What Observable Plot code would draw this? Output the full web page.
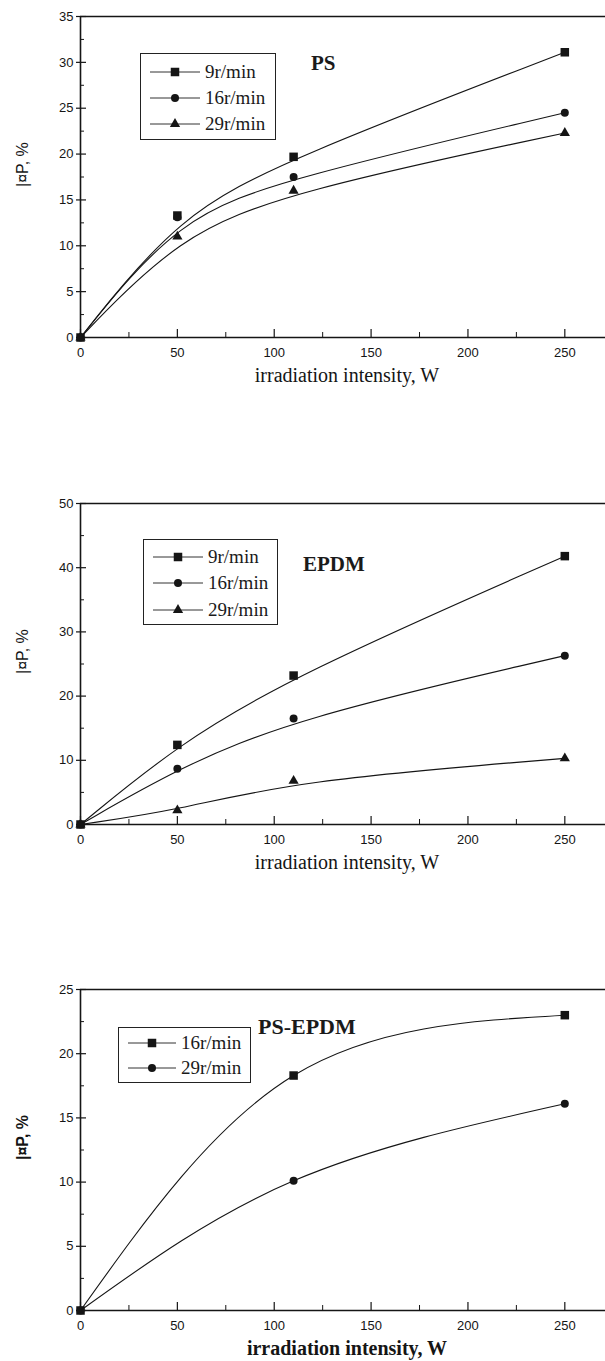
<!DOCTYPE html>
<html>
<head>
<meta charset="utf-8">
<script src="https://cdn.jsdelivr.net/npm/d3@7"></script>
<script src="https://cdn.jsdelivr.net/npm/@observablehq/plot@0.6"></script>
<style>
  html, body { margin: 0; padding: 0; background: #fff; }
  #wrap { position: relative; width: 605px; height: 1361px; overflow: hidden; background: #fff; }
  .panel { position: absolute; left: 0; width: 605px; }
  .title { position: absolute; font-family: "Liberation Serif", "Times New Roman", serif; font-weight: bold; font-size: 21px; line-height: 21px; color: #1a1a1a; white-space: nowrap; }
  .legend { position: absolute; border: 1.5px solid #222; background: #fff; box-sizing: border-box; }
  .row { position: absolute; left: 8px; height: 20px; display: flex; align-items: center; font-family: "Liberation Serif", "Times New Roman", serif; font-size: 19px; line-height: 20px; color: #1a1a1a; white-space: nowrap; }
  .row svg { display: block; margin-right: 3px; }
</style>
</head>
<body>
<div id="wrap"></div>
<script>
// ---- data ----
const xMajor = [0, 50, 100, 150, 200, 250];
const xMinor = [25, 75, 125, 175, 225];
const xDomain = [0, 271];
const xLabel = "irradiation intensity, W";
const yLabel = "|¤P, %";

// Panel 1: PS
const psSpeeds = ["9r/min", "16r/min", "29r/min"];
const psIntensity = [0, 50, 110, 250];
const ps9 = [0, 13.3, 19.7, 31.1];
const ps16 = [0, 13.1, 17.5, 24.5];
const ps29 = [0, 11.0, 16.0, 22.3];
const psYMajor = [0, 5, 10, 15, 20, 25, 30, 35];
const psYMinor = [2.5, 7.5, 12.5, 17.5, 22.5, 27.5, 32.5];

// Panel 2: EPDM
const epdmSpeeds = ["9r/min", "16r/min", "29r/min"];
const epdmIntensity = [0, 50, 110, 250];
const epdm9 = [0, 12.4, 23.2, 41.8];
const epdm16 = [0, 8.7, 16.5, 26.3];
const epdm29 = [0, 2.2, 6.8, 10.3];
const epdmYMajor = [0, 10, 20, 30, 40, 50];
const epdmYMinor = [5, 15, 25, 35, 45];

// Panel 3: PS-EPDM
const blendSpeeds = ["16r/min", "29r/min"];
const blendIntensity = [0, 110, 250];
const blend16 = [0, 18.3, 23.0];
const blend29 = [0, 10.1, 16.1];
const blendYMajor = [0, 5, 10, 15, 20, 25];
const blendYMinor = [2.5, 7.5, 12.5, 17.5, 22.5];

const symbolOrder = ["square", "circle", "triangle"];
const symbolR = {square: 4.8, circle: 4, triangle: 3.8};
const d3Sym = {square: d3.symbolSquare, circle: d3.symbolCircle, triangle: d3.symbolTriangle};

function rowsOf(speeds, intensity, seriesList) {
  const rows = [];
  speeds.forEach((s, k) => intensity.forEach((x, i) => rows.push({speed: s, k, intensity: x, value: seriesList[k][i]})));
  return rows;
}

const INNER_H = 321, INNER_W = 525;

function makePanel(cfg) {
  const rows = rowsOf(cfg.speeds, cfg.intensity, cfg.series);
  const ink = "#151515";
  const marks = [
    Plot.axisX(xMajor, {tickSize: 0, tickPadding: 10, label: null, fontSize: 13}),
    Plot.axisY(cfg.yMajor, {tickSize: 4, tickPadding: 3, label: null, fontSize: 13, stroke: ink, strokeWidth: 1.2}),
    Plot.tickX(xMajor, {x: d => d, insetTop: INNER_H - 8, stroke: ink, strokeWidth: 1.2}),
    Plot.tickX(xMinor, {x: d => d, insetTop: INNER_H - 5, stroke: ink, strokeWidth: 1}),
    Plot.tickY(cfg.yMajor, {y: d => d, insetRight: INNER_W - 6, stroke: ink, strokeWidth: 1.2}),
    Plot.tickY(cfg.yMinor, {y: d => d, insetRight: INNER_W - 4, stroke: ink, strokeWidth: 1}),
    Plot.ruleX([xDomain[0]], {stroke: ink, strokeWidth: 1.6}),
    Plot.ruleY([0, cfg.yMax], {stroke: ink, strokeWidth: 1.6}),
    Plot.line(rows, {x: "intensity", y: "value", z: "speed", curve: cfg.curve, stroke: ink, strokeWidth: 1.1}),
  ];
  cfg.speeds.forEach((s, k) => {
    const sym = symbolOrder[k];
    marks.push(Plot.dot(rows.filter(r => r.k === k), {x: "intensity", y: "value", symbol: sym, r: symbolR[sym], fill: ink, stroke: "none"}));
  });
  marks.push(Plot.text([yLabel], {frameAnchor: "left", dx: -58, dy: 10, rotate: -90, fontSize: 16, fontWeight: cfg.bold ? "bold" : "normal", fill: ink}));
  marks.push(Plot.text([xLabel], {frameAnchor: "bottom", dx: 4, dy: 44, fontSize: 20, fontFamily: "Liberation Serif, Times New Roman, serif", fontWeight: cfg.bold ? "bold" : "normal", fill: ink}));

  const plot = Plot.plot({
    width: 605, height: cfg.height,
    marginTop: 16, marginLeft: 80, marginRight: 0, marginBottom: cfg.height - 16 - INNER_H,
    x: {domain: xDomain},
    y: {domain: [0, cfg.yMax]},
    style: {fontFamily: "Liberation Sans, Arial, sans-serif", fontSize: "13px", color: ink, background: "white", overflow: "visible"},
    marks
  });

  const div = document.createElement("div");
  div.className = "panel";
  div.style.top = cfg.top + "px";
  div.style.height = cfg.height + "px";
  div.appendChild(plot);

  const title = document.createElement("div");
  title.className = "title";
  title.textContent = cfg.title;
  title.style.left = cfg.titleLeft + "px";
  title.style.top = (cfg.titleBaseline - 17) + "px";
  if (cfg.titleSize) title.style.fontSize = cfg.titleSize + "px";
  div.appendChild(title);

  const lg = document.createElement("div");
  lg.className = "legend";
  lg.style.left = cfg.legend.left + "px";
  lg.style.top = cfg.legend.top + "px";
  lg.style.width = cfg.legend.width + "px";
  lg.style.height = cfg.legend.height + "px";
  cfg.speeds.forEach((s, k) => {
    const sym = symbolOrder[k];
    const row = document.createElement("div");
    row.className = "row";
    row.style.top = (cfg.legend.rows[k] - 10) + "px";
    row.style.left = cfg.legend.lineLeft + "px";
    const L = cfg.legend.lineLen;
    const svg = d3.create("svg").attr("width", L + 2).attr("height", 14);
    svg.append("line").attr("x1", 0).attr("x2", L).attr("y1", 7).attr("y2", 7).attr("stroke", "#333").attr("stroke-width", 1);
    const r = symbolR[sym];
    svg.append("path").attr("transform", `translate(${L / 2},7)`).attr("d", d3.symbol(d3Sym[sym], Math.PI * r * r)()).attr("fill", ink);
    row.appendChild(svg.node());
    const span = document.createElement("span");
    span.textContent = s;
    row.appendChild(span);
    lg.appendChild(row);
  });
  div.appendChild(lg);
  document.getElementById("wrap").appendChild(div);
}

makePanel({
  top: 0, height: 487, yMax: 35, yMajor: psYMajor, yMinor: psYMinor,
  speeds: psSpeeds, intensity: psIntensity, series: [ps9, ps16, ps29], curve: "basis",
  title: "PS", titleLeft: 311, titleBaseline: 70,
  legend: {left: 140, top: 53, width: 136, height: 87, rows: [18, 44, 70], lineLeft: 9, lineLen: 50}
});
makePanel({
  top: 487, height: 486, yMax: 50, yMajor: epdmYMajor, yMinor: epdmYMinor,
  speeds: epdmSpeeds, intensity: epdmIntensity, series: [epdm9, epdm16, epdm29], curve: "basis",
  title: "EPDM", titleLeft: 303, titleBaseline: 84,
  legend: {left: 143, top: 52, width: 135, height: 86, rows: [17, 43, 70], lineLeft: 9, lineLen: 50}
});
makePanel({
  top: 973, height: 388, yMax: 25, yMajor: blendYMajor, yMinor: blendYMinor,
  speeds: blendSpeeds, intensity: blendIntensity, series: [blend16, blend29], curve: "natural", bold: true,
  title: "PS-EPDM", titleLeft: 258, titleBaseline: 60, titleSize: 22,
  legend: {left: 118, top: 54, width: 133, height: 56, rows: [15, 40], lineLeft: 9, lineLen: 48}
});
</script>
</body>
</html>
